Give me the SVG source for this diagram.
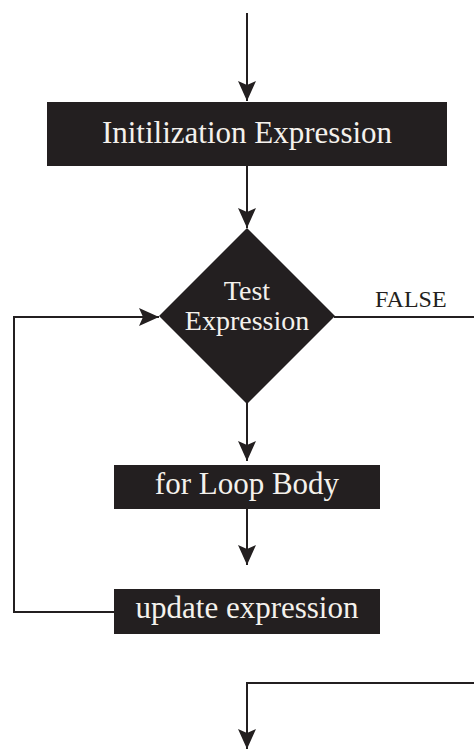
<svg xmlns="http://www.w3.org/2000/svg" width="474" height="749" viewBox="0 0 474 749">
  <style>
    .box { fill: #231f20; }
    .label { fill: #f4f1ec; font-family: "Liberation Serif", "Times New Roman", serif; text-anchor: middle; }
    .flow { fill: none; stroke: #231f20; stroke-width: 2; }
    .note { fill: #231f20; font-family: "Liberation Serif", "Times New Roman", serif; font-size: 24px; }
  </style>
  <defs>
    <marker id="head" viewBox="0 0 20 18" refX="20" refY="9" markerWidth="20" markerHeight="18" markerUnits="userSpaceOnUse" orient="auto">
      <path d="M0,0 L20,9 L0,18 L4,9 Z" fill="#231f20"/>
    </marker>
  </defs>

  <rect width="474" height="749" fill="#ffffff"/>

  <g id="connectors">
    <!-- entry into initialization -->
    <line class="flow" x1="247" y1="13" x2="247" y2="101" marker-end="url(#head)"/>
    <!-- initialization to test -->
    <line class="flow" x1="247" y1="166" x2="247" y2="228" marker-end="url(#head)"/>
    <!-- test to loop body -->
    <line class="flow" x1="247" y1="403" x2="247" y2="461" marker-end="url(#head)"/>
    <!-- loop body to update -->
    <line class="flow" x1="247" y1="509" x2="247" y2="565" marker-end="url(#head)"/>
    <!-- update back to test -->
    <path class="flow" d="M114,612 H14 V317 H159" marker-end="url(#head)"/>
    <!-- false exit -->
    <line class="flow" x1="334" y1="317" x2="474" y2="317"/>
    <path class="flow" d="M474,683 H247 V749" marker-end="url(#head)"/>
    <text class="note" x="375" y="307">FALSE</text>
  </g>

  <g id="init">
    <rect class="box" x="47" y="102" width="400" height="64"/>
    <text class="label" x="247" y="143" font-size="31">Initilization Expression</text>
  </g>

  <g id="test">
    <polygon class="box" points="247,228 335,316 247,404 159,316"/>
    <text class="label" x="247" y="300" font-size="28">Test</text>
    <text class="label" x="247" y="330" font-size="28">Expression</text>
  </g>

  <g id="body">
    <rect class="box" x="114" y="465" width="266" height="44"/>
    <text class="label" x="247" y="494" font-size="31">for Loop Body</text>
  </g>

  <g id="update">
    <rect class="box" x="114" y="589" width="266" height="45"/>
    <text class="label" x="247" y="618" font-size="31">update expression</text>
  </g>
</svg>
